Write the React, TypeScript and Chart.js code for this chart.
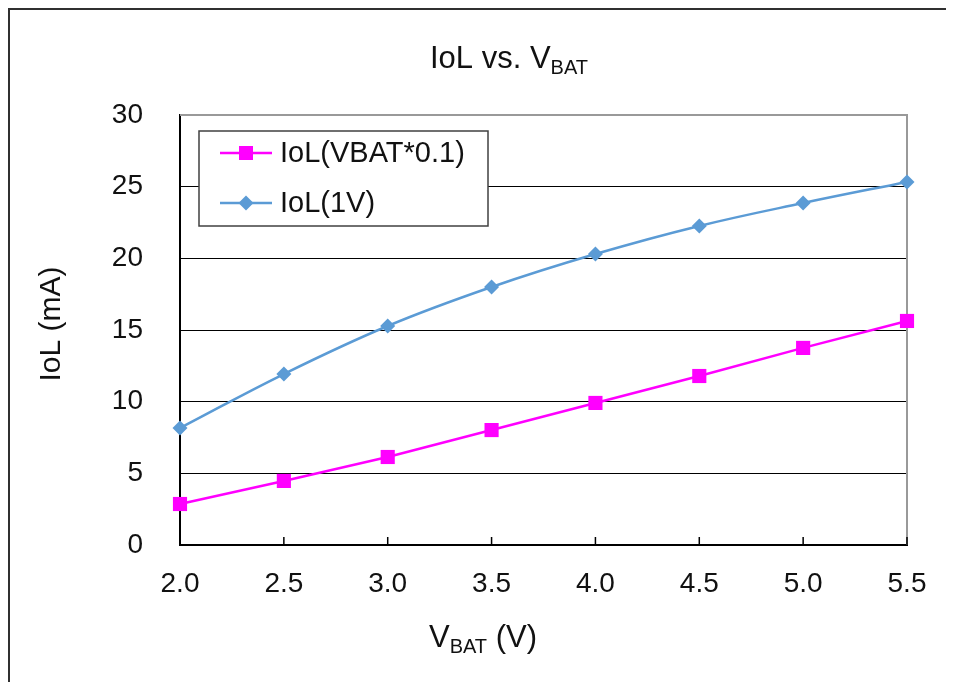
import React, { useEffect, useRef } from 'react';
import { Chart, registerables } from 'chart.js';

Chart.register(...registerables);

const vbat = [2.0, 2.5, 3.0, 3.5, 4.0, 4.5, 5.0, 5.5];
const iolVbat01 = [2.86, 4.47, 6.14, 8.02, 9.91, 11.79, 13.75, 15.63];
const iol1V = [8.16, 11.93, 15.28, 18.0, 20.3, 22.26, 23.86, 25.33];
const seriesLabels = ['IoL(VBAT*0.1)', 'IoL(1V)'];
const xTickValues = [2.0, 2.5, 3.0, 3.5, 4.0, 4.5, 5.0, 5.5];
const titleMain = 'IoL vs. V';
const titleSub = 'BAT';
const xTitleMain = 'V';
const xTitleSub = 'BAT';
const xTitleEnd = ' (V)';
const yTitle = 'IoL (mA)';

const PINK = '#FF00FF';
const BLUE = '#5B9BD5';
const FONT = '"Liberation Sans", Arial, sans-serif';

function drawSubText(ctx: CanvasRenderingContext2D, parts: { t: string; sub?: boolean }[], cx: number, baseline: number, main: number, sub: number) {
  let total = 0;
  const widths = parts.map((p) => {
    ctx.font = `${p.sub ? sub : main}px ${FONT}`;
    const w = ctx.measureText(p.t).width;
    total += w;
    return w;
  });
  let x = cx - total / 2;
  ctx.textAlign = 'left';
  ctx.textBaseline = 'alphabetic';
  parts.forEach((p, i) => {
    ctx.font = `${p.sub ? sub : main}px ${FONT}`;
    ctx.fillText(p.t, x, baseline + (p.sub ? 6 : 0));
    x += widths[i];
  });
}

const decor = {
  id: 'decor',
  beforeDatasetsDraw(chart: any) {
    const { ctx, chartArea: a, scales } = chart;
    ctx.save();
    ctx.strokeStyle = '#999999';
    ctx.lineWidth = 2;
    ctx.beginPath();
    ctx.moveTo(a.left, a.top);
    ctx.lineTo(a.right, a.top);
    ctx.lineTo(a.right, a.bottom);
    ctx.stroke();
    ctx.strokeStyle = '#000';
    ctx.lineWidth = 1.5;
    ctx.beginPath();
    for (const v of xTickValues) {
      const x = scales.x.getPixelForValue(v);
      ctx.moveTo(x, a.bottom);
      ctx.lineTo(x, a.bottom - 8);
    }
    ctx.stroke();
    ctx.restore();
  },
  afterDraw(chart: any) {
    const { ctx } = chart;
    ctx.save();
    // outer frame (top and left visible)
    ctx.strokeStyle = '#303030';
    ctx.lineWidth = 2;
    ctx.beginPath();
    ctx.moveTo(1, chart.height + 5);
    ctx.lineTo(1, 1);
    ctx.lineTo(chart.width + 5, 1);
    ctx.stroke();
    ctx.fillStyle = '#111';
    // title
    drawSubText(ctx, [{ t: titleMain }, { t: titleSub, sub: true }], 501, 60, 31, 20);
    // x title
    drawSubText(ctx, [{ t: xTitleMain }, { t: xTitleSub, sub: true }, { t: xTitleEnd }], 475, 639, 31, 20);
    // y title
    ctx.save();
    ctx.translate(44, 316);
    ctx.rotate(-Math.PI / 2);
    ctx.font = `30px ${FONT}`;
    ctx.textAlign = 'center';
    ctx.textBaseline = 'middle';
    ctx.fillText(yTitle, 0, 0);
    ctx.restore();
    // legend
    const bx = 191, by = 123, bw = 289, bh = 95;
    ctx.fillStyle = '#fff';
    ctx.fillRect(bx, by, bw, bh);
    ctx.strokeStyle = '#404040';
    ctx.lineWidth = 1.5;
    ctx.strokeRect(bx, by, bw, bh);
    const rows = [
      { y: 145, color: PINK, label: seriesLabels[0], shape: 'rect' },
      { y: 195, color: BLUE, label: seriesLabels[1], shape: 'diamond' },
    ];
    for (const r of rows) {
      ctx.strokeStyle = r.color;
      ctx.lineWidth = 2.5;
      ctx.beginPath();
      ctx.moveTo(212, r.y);
      ctx.lineTo(264, r.y);
      ctx.stroke();
      ctx.fillStyle = r.color;
      if (r.shape === 'rect') {
        ctx.fillRect(238 - 7, r.y - 7, 14, 14);
      } else {
        ctx.beginPath();
        ctx.moveTo(238, r.y - 7.5);
        ctx.lineTo(245.5, r.y);
        ctx.lineTo(238, r.y + 7.5);
        ctx.lineTo(230.5, r.y);
        ctx.closePath();
        ctx.fill();
      }
      ctx.fillStyle = '#111';
      ctx.font = `29px ${FONT}`;
      ctx.textAlign = 'left';
      ctx.textBaseline = 'middle';
      ctx.fillText(r.label, 272, r.y + 1);
    }
    ctx.restore();
  },
};

export default function App() {
  const ref = useRef<HTMLCanvasElement | null>(null);
  useEffect(() => {
    if (!ref.current) return;
    const chart = new Chart(ref.current, {
      type: 'line',
      data: {
        datasets: [
          {
            label: seriesLabels[0],
            data: vbat.map((x, i) => ({ x, y: iolVbat01[i] })),
            borderColor: PINK,
            backgroundColor: PINK,
            borderWidth: 2.5,
            pointStyle: 'rect',
            pointRadius: 10,
            pointBorderWidth: 0,
            tension: 0,
            clip: false,
          },
          {
            label: seriesLabels[1],
            data: vbat.map((x, i) => ({ x, y: iol1V[i] })),
            borderColor: BLUE,
            backgroundColor: BLUE,
            borderWidth: 2.5,
            pointStyle: 'rectRot',
            pointRadius: 7.5,
            pointBorderWidth: 0,
            tension: 0.4,
            clip: false,
          },
        ],
      },
      options: {
        animation: false,
        responsive: false,
        maintainAspectRatio: false,
        devicePixelRatio: 1,
        layout: { padding: { top: 107, right: 39, left: 0, bottom: 0 } },
        plugins: {
          legend: { display: false },
          tooltip: { enabled: false },
          title: { display: false },
        },
        scales: {
          x: {
            type: 'linear',
            min: 2,
            max: 5.5,
            afterFit: (s: any) => { s.height = 137; s.paddingLeft = 0; s.paddingRight = 0; },
            afterBuildTicks: (s: any) => { s.ticks = xTickValues.map((v) => ({ value: v })); },
            grid: { display: false, drawTicks: false },
            border: { display: true, color: '#000', width: 2 },
            ticks: {
              padding: 22,
              color: '#111',
              font: { size: 28, family: FONT },
              maxRotation: 0,
              callback: (v: any) => Number(v).toFixed(1),
            },
          },
          y: {
            type: 'linear',
            min: 0,
            max: 30,
            afterFit: (s: any) => { s.width = 172; s.paddingTop = 0; s.paddingBottom = 0; },
            grid: { display: true, color: '#000', lineWidth: 1, drawTicks: false },
            border: { display: true, color: '#000', width: 2 },
            ticks: {
              stepSize: 5,
              padding: 37,
              color: '#111',
              font: { size: 28, family: FONT },
            },
          },
        },
      },
      plugins: [decor],
    });
    return () => chart.destroy();
  }, []);
  return (
    <div style={{ width: 938, height: 674, position: 'relative' }}>
      <canvas ref={ref} width={938} height={674} style={{ width: 938, height: 674, display: 'block' }} />
    </div>
  );
}
